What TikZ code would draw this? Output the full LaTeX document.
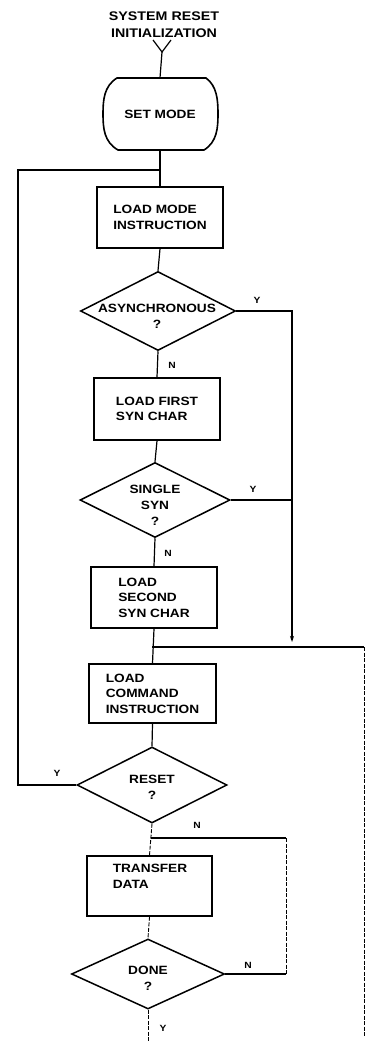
\documentclass[tikz,border=0pt]{standalone}
\usepackage{fontspec}
\setmainfont{Liberation Sans}[FakeStretch=1.14]
\usetikzlibrary{shapes.geometric,arrows.meta}
\tikzset{
  ln/.style={line width=1.2pt},
  faint/.style={line width=0.9pt, dash pattern=on 4pt off 1.5pt},
  boxn/.style={draw, rectangle, line width=1.6pt, inner sep=0pt, align=left,
    font=\bfseries\fontsize{12}{15.5}\selectfont},
  dia/.style={draw, diamond, line width=1.5pt, inner sep=0pt},
  txt/.style={inner sep=0pt, align=center, font=\bfseries\fontsize{12}{16}\selectfont},
  lab/.style={inner sep=0pt, font=\bfseries\fontsize{9}{10}\selectfont},
}
\begin{document}
\begin{tikzpicture}[x=1pt,y=-1pt]
\useasboundingbox[fill=white] (0,0) rectangle (371,1041);
% title
\node[txt, font=\bfseries\fontsize{12.5}{16.5}\selectfont] (title) at (164,24.5) {SYSTEM RESET\\INITIALIZATION};
\coordinate (v1) at (153,40);
\coordinate (v2) at (171,40);
\coordinate (vp) at (162,52);
% set mode
\node[txt, minimum width=115pt, minimum height=72pt] (sm) at (160,114) {SET MODE};
\draw[line width=1.6pt, shift={(sm.center)}]
  (-43,-36) -- (46,-36) .. controls (57,-28) and (58,-14) .. (58,0)
  .. controls (58,14) and (57,28) .. (44,36) -- (-42,36)
  .. controls (-56,28) and (-57,14) .. (-57,0)
  .. controls (-57,-14) and (-56,-28) .. (-43,-36) -- cycle;
\draw[ln] (v1) -- (vp) -- (v2);
\draw[ln] (vp) -- (sm.north);
% junction coordinates
\coordinate (j1) at (159,170);
\coordinate (lft) at (18,170);
% boxes and diamonds
\node[boxn, minimum width=126pt, minimum height=61pt] (lm) at (160,217.5) {LOAD MODE\\INSTRUCTION};
\node[dia, minimum width=155pt, minimum height=79pt] (asy) at (158,311) {};
\node[txt] (asyt) at (157,316) {ASYNCHRONOUS\\?};
\node[boxn, minimum width=126pt, minimum height=62pt] (lfs) at (157,409) {LOAD FIRST\\SYN CHAR};
\node[dia, minimum width=150pt, minimum height=75pt] (ss) at (155,500) {};
\node[txt] (sst) at (155,505) {SINGLE\\SYN\\?};
\node[boxn, minimum width=126pt, minimum height=61pt] (lsc) at (154,597.5) {LOAD\\SECOND\\SYN CHAR};
\node[boxn, minimum width=127pt, minimum height=59pt] (lcm) at (152.5,693.5) {LOAD\\COMMAND\\INSTRUCTION};
\node[dia, minimum width=150pt, minimum height=76pt] (rst) at (152,785) {};
\node[txt] (rstt) at (152,787) {RESET\\?};
\node[boxn, minimum width=125pt, minimum height=60pt] (td) at (149.5,886) {};
\node[txt, align=left] (tdt) at (150,876) {TRANSFER\\DATA};
\node[dia, minimum width=153pt, minimum height=70pt] (dn) at (148,974) {};
\node[txt] (dnt) at (148,978) {DONE\\?};
% labels
\node[lab] (y1) at (257,300) {Y};
\node[lab] (n1) at (172,365) {N};
\node[lab] (y2) at (253,489) {Y};
\node[lab] (n2) at (168,553) {N};
\node[lab] (y3) at (57,773) {Y};
\node[lab] (n3) at (197,825) {N};
\node[lab] (n4) at (248,965) {N};
\node[lab] (y4) at (163,1028) {Y};
% other coordinates
\coordinate (r1) at (292,311);
\coordinate (r2) at (292,642);
\coordinate (j2) at (152,647);
\coordinate (rr) at (364,647);
\coordinate (rb) at (364,1037);
\coordinate (j3) at (151,838);
\coordinate (lp) at (286,838);
\coordinate (endp) at (148,1041);
% main flow
\draw[ln] (sm.south) -- (lm.north);
\draw[ln] (lm.south) -- (asy.north);
\draw[ln] (asy.south) -- (lfs.north);
\draw[ln] (lfs.south) -- (ss.north);
\draw[ln] (ss.south) -- (lsc.north);
\draw[ln] (lsc.south) -- (lcm.north);
\draw[ln] (lcm.south) -- (rst.north);
\draw[faint] (rst.south) -- (td.north);
\draw[faint] (td.south) -- (dn.north);
\draw[faint] (dn.south) -- (endp);
% left loop
\draw[ln] (rst.west) -- (rst.west -| lft) -- (lft) -- (j1);
% right Y branches
\draw[ln, -{Stealth[length=6pt,width=4pt]}] (asy.east) -- (r1) -- (r2);
\draw[ln] (ss.east) -- (ss.east -| r1);
\draw[ln] (j2) -- (rr);
\draw[faint] (rr) -- (rb);
% done loop
\draw[ln] (j3) -- (lp);
\draw[faint] (lp) -- (lp |- dn.east);
\draw[ln] (lp |- dn.east) -- (dn.east);
\end{tikzpicture}
\end{document}
